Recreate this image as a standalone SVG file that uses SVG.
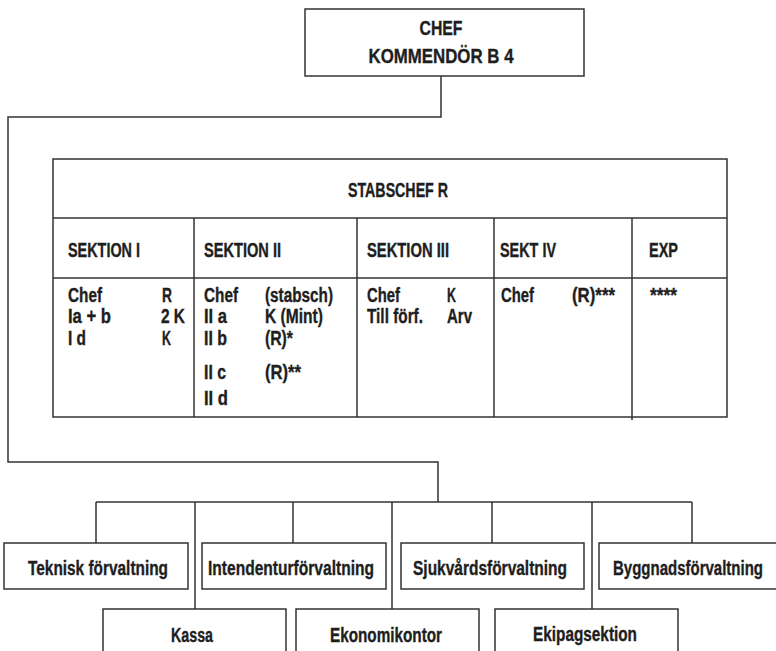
<svg xmlns="http://www.w3.org/2000/svg" width="776" height="651" viewBox="0 0 776 651">
<style>
.box{fill:#fff;stroke:#333;stroke-width:1.5}
.ln{fill:none;stroke:#333;stroke-width:1.5}
text{font-family:"Liberation Sans",Arial,sans-serif;font-weight:bold;font-size:19.5px;fill:#1e1e1e;stroke:#1e1e1e;stroke-width:0.35}
.c{text-anchor:middle}
</style>
<rect width="776" height="651" fill="#fff"/>
<g id="connectors">
<polyline class="ln" points="441,76 441,117 8,117 8,462 438,462 438,502"/>
<line class="ln" x1="96" y1="502" x2="692" y2="502"/>
<line class="ln" x1="96" y1="502" x2="96" y2="543"/>
<line class="ln" x1="195" y1="502" x2="195" y2="609"/>
<line class="ln" x1="293" y1="502" x2="293" y2="543"/>
<line class="ln" x1="392" y1="502" x2="392" y2="609"/>
<line class="ln" x1="492" y1="502" x2="492" y2="543"/>
<line class="ln" x1="592" y1="502" x2="592" y2="609"/>
<line class="ln" x1="692" y1="502" x2="692" y2="543"/>
</g>
<g id="chef">
<rect class="box" x="305" y="9" width="279" height="67"/>
<text class="c" x="441" y="35" textLength="43" lengthAdjust="spacingAndGlyphs">CHEF</text>
<text class="c" x="441" y="63" textLength="145" lengthAdjust="spacingAndGlyphs">KOMMENDÖR B 4</text>
</g>
<g id="stab">
<rect class="box" x="53" y="159" width="674" height="258"/>
<line class="ln" x1="53" y1="218" x2="727" y2="218"/>
<line class="ln" x1="53" y1="278" x2="727" y2="278"/>
<line class="ln" x1="194" y1="218" x2="194" y2="417"/>
<line class="ln" x1="357" y1="218" x2="357" y2="417"/>
<line class="ln" x1="494" y1="218" x2="494" y2="417"/>
<line class="ln" x1="632" y1="218" x2="632" y2="420"/>
<text class="c" x="398" y="197" textLength="100" lengthAdjust="spacingAndGlyphs">STABSCHEF R</text>
<text x="68" y="257" textLength="72" lengthAdjust="spacingAndGlyphs">SEKTION I</text>
<text x="204" y="257" textLength="77" lengthAdjust="spacingAndGlyphs">SEKTION II</text>
<text x="367" y="257" textLength="82" lengthAdjust="spacingAndGlyphs">SEKTION III</text>
<text x="500" y="257" textLength="56" lengthAdjust="spacingAndGlyphs">SEKT IV</text>
<text x="649" y="257" textLength="29" lengthAdjust="spacingAndGlyphs">EXP</text>
<text x="68" y="302" textLength="34" lengthAdjust="spacingAndGlyphs">Chef</text><text x="162" y="302" textLength="10" lengthAdjust="spacingAndGlyphs">R</text>
<text x="68" y="323" textLength="43" lengthAdjust="spacingAndGlyphs">Ia + b</text><text x="161" y="323" textLength="24" lengthAdjust="spacingAndGlyphs">2 K</text>
<text x="68" y="345" textLength="18" lengthAdjust="spacingAndGlyphs">I d</text><text x="162" y="345" textLength="9" lengthAdjust="spacingAndGlyphs">K</text>
<text x="204" y="302" textLength="34" lengthAdjust="spacingAndGlyphs">Chef</text><text x="265" y="302" textLength="68" lengthAdjust="spacingAndGlyphs">(stabsch)</text>
<text x="204" y="323" textLength="23" lengthAdjust="spacingAndGlyphs">II a</text><text x="265" y="323" textLength="58" lengthAdjust="spacingAndGlyphs">K (Mint)</text>
<text x="204" y="345" textLength="23" lengthAdjust="spacingAndGlyphs">II b</text><text x="265" y="345" textLength="28" lengthAdjust="spacingAndGlyphs">(R)*</text>
<text x="204" y="379" textLength="22" lengthAdjust="spacingAndGlyphs">II c</text><text x="265" y="379" textLength="36" lengthAdjust="spacingAndGlyphs">(R)**</text>
<text x="204" y="405" textLength="24" lengthAdjust="spacingAndGlyphs">II d</text>
<text x="367" y="302" textLength="33" lengthAdjust="spacingAndGlyphs">Chef</text><text x="447" y="302" textLength="9" lengthAdjust="spacingAndGlyphs">K</text>
<text x="367" y="323" textLength="56" lengthAdjust="spacingAndGlyphs">Till förf.</text><text x="447" y="323" textLength="25" lengthAdjust="spacingAndGlyphs">Arv</text>
<text x="501" y="302" textLength="33" lengthAdjust="spacingAndGlyphs">Chef</text><text x="572" y="302" textLength="43" lengthAdjust="spacingAndGlyphs">(R)***</text>
<text x="650" y="302" textLength="27" lengthAdjust="spacingAndGlyphs">****</text>
</g>
<g id="teknisk"><rect class="box" x="4" y="543" width="184" height="46"/><text class="c" x="98" y="575" textLength="140" lengthAdjust="spacingAndGlyphs">Teknisk förvaltning</text></g>
<g id="intendentur"><rect class="box" x="202" y="543" width="184" height="46"/><text class="c" x="291" y="575" textLength="166" lengthAdjust="spacingAndGlyphs">Intendenturförvaltning</text></g>
<g id="sjukvard"><rect class="box" x="401" y="543" width="183" height="46"/><text class="c" x="490" y="575" textLength="154" lengthAdjust="spacingAndGlyphs">Sjukvårdsförvaltning</text></g>
<g id="byggnad"><rect class="box" x="599" y="543" width="184" height="46"/><text class="c" x="688" y="575" textLength="150" lengthAdjust="spacingAndGlyphs">Byggnadsförvaltning</text></g>
<g id="kassa"><rect class="box" x="103" y="609" width="183" height="50"/><text class="c" x="192" y="642" textLength="42" lengthAdjust="spacingAndGlyphs">Kassa</text></g>
<g id="ekonomi"><rect class="box" x="296" y="609" width="183" height="50"/><text class="c" x="386" y="642" textLength="112" lengthAdjust="spacingAndGlyphs">Ekonomikontor</text></g>
<g id="ekipage"><rect class="box" x="495" y="609" width="183" height="50"/><text class="c" x="585" y="641" textLength="104" lengthAdjust="spacingAndGlyphs">Ekipagsektion</text></g>
</svg>
